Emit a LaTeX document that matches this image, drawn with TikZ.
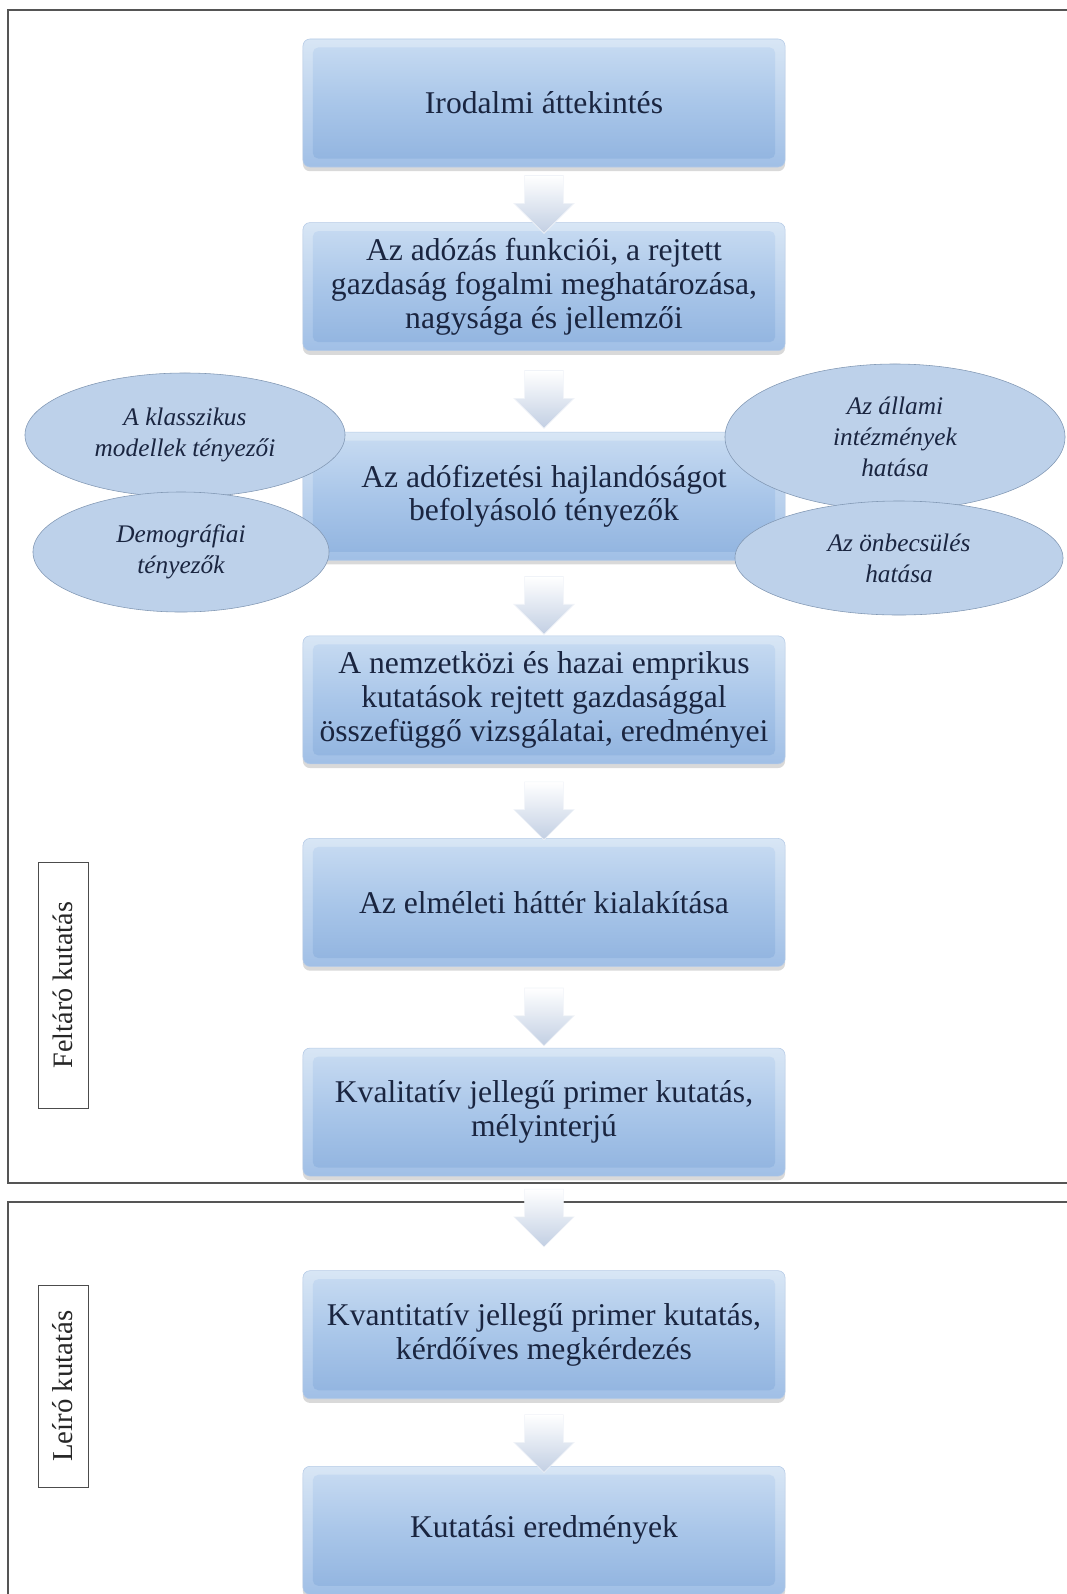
\documentclass[tikz,border=0pt]{standalone}
\usepackage{fontspec}
\setmainfont{Liberation Serif}
\usetikzlibrary{shapes.geometric, shapes.arrows, positioning, calc, shadows}
\definecolor{ink}{HTML}{1A2540}
\definecolor{bevelTop}{HTML}{D8E6F5}
\definecolor{bevelBot}{HTML}{A0BFE6}
\definecolor{boxTop}{HTML}{C9DCF2}
\definecolor{boxMid}{HTML}{A9C6E9}
\definecolor{boxBot}{HTML}{90B3DF}
\definecolor{boxEdge}{HTML}{B5CAE6}
\definecolor{arrowBot}{HTML}{C2CFE3}
\definecolor{ovalFill}{HTML}{BDD1EA}
\definecolor{ovalEdge}{HTML}{8197B3}
\definecolor{frameGray}{HTML}{555555}
\tikzset{
  stepbox/.style = {rectangle, rounded corners=5pt, draw=boxEdge, thin,
    top color=bevelTop, bottom color=bevelBot,
    minimum width=12.05cm, minimum height=3.2cm, inner sep=2pt,
    align=center, text=ink, font=\fontsize{22.5}{24}\selectfont,
    drop shadow={shadow xshift=0pt, shadow yshift=-3pt, opacity=0.3},
    path picture={\shade[top color=boxTop, bottom color=boxBot, middle color=boxMid,
      rounded corners=4pt]
      ([shift={(7pt,-6pt)}]path picture bounding box.north west) rectangle
      ([shift={(-7pt,6pt)}]path picture bounding box.south east);}},
  oval/.style = {ellipse, draw=ovalEdge, thin, fill=ovalFill, inner sep=0pt,
    align=center, text=ink, font=\itshape\fontsize{18}{22}\selectfont},
  phase/.style = {rectangle, draw=black!70, thin, fill=white, rotate=90,
    minimum height=1.25cm, inner sep=2pt, text=black!85},
  downarrow/.style = {single arrow, shape border rotate=270, draw=white!75!arrowBot,
    top color=white, bottom color=arrowBot, minimum width=1.5cm,
    minimum height=1.3cm, single arrow head extend=0.27cm, inner sep=0.475cm},
  frame/.style = {draw=frameGray, line width=1.4pt},
}

\begin{document}
\begin{tikzpicture}[x=0.025cm, y=-0.025cm]

\useasboundingbox (0,0) rectangle (1067,1594);

% kutatasi szakaszok keretei
\draw[frame] (1080,10) -- (8,10) -- (8,1183) -- (1080,1183);
\draw[frame] (1080,1202) -- (8,1202) -- (8,1610);

\node[phase, minimum width=6.15cm, font=\fontsize{20}{22}\selectfont] (p1) at (63,985) {Feltáró kutatás};
\node[phase, minimum width=5.05cm, font=\fontsize{20.5}{22}\selectfont] (p2) at (63,1386) {Leíró kutatás};

% fo lepesek
\node[stepbox] (n1) at (544,103) {Irodalmi áttekintés};
\node[stepbox, below=1.375cm of n1] (n2) {Az adózás funkciói, a rejtett\\gazdaság fogalmi meghatározása,\\nagysága és jellemzői};
\node[stepbox, below=2.025cm of n2] (n3) {Az adófizetési hajlandóságot\\befolyásoló tényezők};
\node[stepbox, below=1.875cm of n3] (n4) {A nemzetközi és hazai emprikus\\kutatások rejtett gazdasággal\\összefüggő vizsgálatai, eredményei};
\node[stepbox, below=1.85cm of n4] (n5) {Az elméleti háttér kialakítása};
\node[stepbox, below=2.025cm of n5] (n6) {Kvalitatív jellegű primer kutatás,\\mélyinterjú};
\node[stepbox, below=2.35cm of n6] (n7) {Kvantitatív jellegű primer kutatás,\\kérdőíves megkérdezés};
\node[stepbox, below=1.675cm of n7] (n8) {Kutatási eredmények};

% tenyezok
\node[oval, minimum width=8cm, minimum height=3.1cm] (t1) at (185,435) {A klasszikus\\modellek tényezői};
\node[oval, minimum width=7.4cm, minimum height=3cm] (t2) at (181,552) {Demográfiai\\tényezők};
\node[oval, minimum width=8.5cm, minimum height=3.65cm] (t3) at (895,437) {Az állami\\intézmények\\hatása};
\node[oval, minimum width=8.2cm, minimum height=2.85cm] (t4) at (899,558) {Az önbecsülés\\hatása};

% nyilak
\node[downarrow] (a1) at ($(n1.south)!0.5!(n2.north)$) {};
\node[downarrow] (a2) at ($(n2.south)!0.48!(n3.north)$) {};
\node[downarrow] (a3) at ($(n3.south)!0.47!(n4.north)$) {};
\node[downarrow] (a4) at ($(n4.south)!0.5!(n5.north)$) {};
\node[downarrow] (a5) at ($(n5.south)!0.5!(n6.north)$) {};
\node[downarrow] (a6) at ($(n6.south)!0.34!(n7.north)$) {};
\node[downarrow] (a7) at ($(n7.south)!0.52!(n8.north)$) {};

\end{tikzpicture}
\end{document}
